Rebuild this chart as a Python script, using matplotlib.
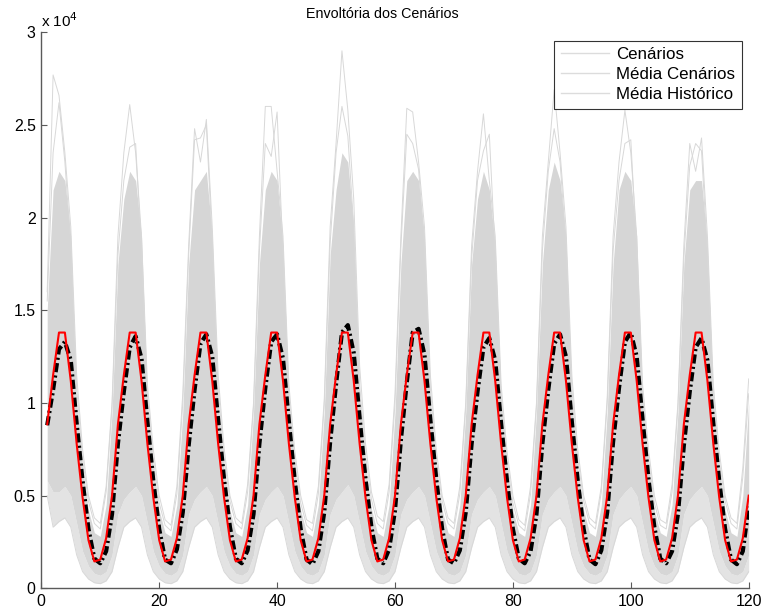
import numpy as np
import matplotlib
matplotlib.use("Agg")
import matplotlib.pyplot as plt
from matplotlib.lines import Line2D

plt.rcParams['font.family'] = ['Liberation Sans', 'DejaVu Sans']

meses = np.arange(1, 121)

# Média Histórico (red), 10 years x 12 months
media_historico = [
    8850, 11500, 13800, 13800, 11200, 7800, 4900, 2600, 1450, 1550, 2700, 5000,
    8850, 11500, 13800, 13800, 11200, 7800, 4900, 2600, 1450, 1550, 2700, 5000,
    8850, 11500, 13800, 13800, 11200, 7800, 4900, 2600, 1450, 1550, 2700, 5000,
    8850, 11500, 13800, 13800, 11200, 7800, 4900, 2600, 1450, 1550, 2700, 5000,
    8850, 11500, 13800, 13800, 11200, 7800, 4900, 2600, 1450, 1550, 2700, 5000,
    8850, 11500, 13800, 13800, 11200, 7800, 4900, 2600, 1450, 1550, 2700, 5000,
    8850, 11500, 13800, 13800, 11200, 7800, 4900, 2600, 1450, 1550, 2700, 5000,
    8850, 11500, 13800, 13800, 11200, 7800, 4900, 2600, 1450, 1550, 2700, 5000,
    8850, 11500, 13800, 13800, 11200, 7800, 4900, 2600, 1450, 1550, 2700, 5000,
    8850, 11500, 13800, 13800, 11200, 7800, 4900, 2600, 1450, 1550, 2700, 5000,
]

# Média Cenários (black dash-dot)
media_cenarios = [
    8800, 10700, 12900, 13300, 12300, 8900, 5800, 3200, 1600, 1350, 2000, 4000,
    7800, 10600, 13000, 13600, 12400, 9000, 5800, 3200, 1550, 1350, 2100, 4100,
    7700, 10700, 13200, 13700, 12500, 9100, 5900, 3300, 1600, 1350, 2050, 4000,
    7800, 10800, 13300, 13700, 12400, 9000, 5800, 3200, 1550, 1300, 2000, 4100,
    7900, 11000, 13800, 14200, 12700, 9200, 5900, 3300, 1600, 1350, 2100, 4200,
    8000, 11100, 13800, 14000, 12600, 9100, 5900, 3200, 1550, 1350, 2050, 4100,
    7800, 10600, 13000, 13500, 12300, 8900, 5800, 3200, 1600, 1350, 2000, 4000,
    7800, 10700, 13200, 13700, 12500, 9000, 5800, 3200, 1550, 1300, 2050, 4100,
    7900, 10800, 13300, 13800, 12500, 9100, 5900, 3300, 1600, 1350, 2000, 4000,
    7700, 10600, 13000, 13500, 12300, 8900, 5800, 3200, 1550, 1300, 2000, 4400,
]

# Cenários: highest scenario, second highest, dense core (upper / lower), lowest
cenarios_max = [
    16000, 27700, 26600, 23500, 19500, 11500, 7500, 5000, 3800, 3500, 5500, 10000,
    19000, 23500, 26100, 23500, 19000, 11000, 7500, 5000, 3700, 3400, 5500, 10500,
    18500, 24800, 23000, 25300, 19500, 11500, 7600, 5000, 3800, 3500, 5600, 10000,
    19000, 26000, 26000, 22500, 19000, 11000, 7400, 5000, 3700, 3500, 5500, 10200,
    19500, 24000, 29000, 25800, 21000, 12000, 7800, 5200, 3900, 3600, 5600, 10500,
    19000, 25900, 25700, 23000, 19500, 11500, 7500, 5000, 3800, 3500, 5500, 10000,
    18500, 22500, 25600, 22000, 19000, 11000, 7400, 5000, 3700, 3400, 5500, 10000,
    19000, 23000, 26900, 23500, 19500, 11500, 7500, 5000, 3800, 3500, 5500, 10300,
    19000, 23000, 25800, 23500, 19000, 11000, 7500, 5000, 3700, 3500, 5600, 10000,
    18500, 24000, 22500, 24300, 19000, 11000, 7400, 5000, 3800, 3500, 6500, 11300,
]
cenarios_seg = [
    15500, 23500, 26200, 23000, 18500, 10800, 7000, 4700, 3500, 3200, 5200, 9800,
    18000, 22000, 23800, 24000, 18200, 10500, 7000, 4600, 3400, 3100, 5100, 10000,
    18000, 24200, 24300, 25000, 18600, 10800, 7100, 4700, 3500, 3200, 5200, 9800,
    18200, 24000, 23300, 25700, 18000, 10500, 6900, 4600, 3400, 3100, 5100, 9900,
    18600, 23500, 26000, 24400, 19500, 11000, 7200, 4800, 3500, 3200, 5200, 10000,
    18400, 24500, 24000, 22600, 18500, 10800, 7000, 4700, 3500, 3200, 5100, 9800,
    17800, 22000, 23600, 24500, 18000, 10500, 6900, 4600, 3400, 3100, 5100, 9800,
    18200, 22500, 24800, 23000, 18600, 10800, 7000, 4700, 3500, 3200, 5200, 10000,
    18200, 22000, 24000, 24200, 18200, 10500, 7000, 4600, 3400, 3200, 5200, 9800,
    17800, 22800, 24000, 23600, 18000, 10500, 6900, 4700, 3500, 3200, 6000, 10500,
]
cenarios_sup = [
    15000, 21500, 22500, 22000, 19000, 10000, 6500, 4200, 3000, 2800, 4500, 9500,
    17500, 21000, 22500, 22000, 19000, 10000, 6500, 4200, 3000, 2800, 4500, 9500,
    17500, 21500, 22000, 22500, 19000, 10000, 6500, 4200, 3000, 2800, 4500, 9500,
    17500, 21500, 22500, 22000, 18500, 10000, 6500, 4200, 3000, 2800, 4500, 9500,
    18000, 21500, 23500, 23000, 19500, 10500, 6600, 4300, 3000, 2800, 4500, 9500,
    17500, 22000, 22500, 22000, 19000, 10000, 6500, 4200, 3000, 2800, 4500, 9500,
    17500, 21000, 22500, 21500, 18500, 10000, 6500, 4200, 3000, 2800, 4500, 9500,
    17500, 21500, 23000, 22000, 19000, 10000, 6500, 4200, 3000, 2800, 4500, 9500,
    17500, 21500, 22500, 22000, 19000, 10000, 6500, 4200, 3000, 2800, 4500, 9500,
    17500, 21500, 22000, 22000, 18500, 10000, 6500, 4200, 3000, 2800, 5000, 10000,
]
cenarios_inf = [
    5800, 5200, 5200, 5500, 5000, 3500, 2000, 1200, 800, 700, 900, 1800,
    4000, 4800, 5200, 5500, 5000, 3500, 2000, 1200, 800, 700, 900, 1800,
    4000, 4800, 5200, 5500, 5000, 3500, 2000, 1200, 800, 700, 900, 1800,
    4000, 4800, 5200, 5500, 5000, 3500, 2000, 1200, 800, 700, 900, 1800,
    4000, 4800, 5200, 5600, 5000, 3500, 2000, 1200, 800, 700, 900, 1800,
    4000, 4800, 5200, 5500, 5000, 3500, 2000, 1200, 800, 700, 900, 1800,
    4000, 4800, 5200, 5500, 5000, 3500, 2000, 1200, 800, 700, 900, 1800,
    4000, 4800, 5200, 5500, 5000, 3500, 2000, 1200, 800, 700, 900, 1800,
    4000, 4800, 5200, 5500, 5000, 3500, 2000, 1200, 800, 700, 900, 1800,
    4000, 4800, 5200, 5500, 5000, 3500, 2000, 1200, 800, 700, 900, 1800,
]
cenarios_min = [
    5000, 3300, 3600, 3800, 3300, 1800, 900, 500, 300, 250, 400, 900,
    2200, 3300, 3600, 3800, 3300, 1800, 900, 500, 300, 250, 400, 900,
    2200, 3300, 3600, 3800, 3300, 1800, 900, 500, 300, 250, 400, 900,
    2200, 3300, 3600, 3800, 3300, 1800, 900, 500, 300, 250, 400, 900,
    2200, 3300, 3600, 3800, 3300, 1800, 900, 500, 300, 250, 400, 900,
    2200, 3300, 3600, 3800, 3300, 1800, 900, 500, 300, 250, 400, 900,
    2200, 3300, 3600, 3800, 3300, 1800, 900, 500, 300, 250, 400, 900,
    2200, 3300, 3600, 3800, 3300, 1800, 900, 500, 300, 250, 400, 900,
    2200, 3300, 3600, 3800, 3300, 1800, 900, 500, 300, 250, 400, 900,
    2200, 3300, 3600, 3800, 3300, 1800, 900, 500, 300, 250, 400, 900,
]

titulo = "Envoltória dos Cenários"
legendas = ["Cenários", "Média Cenários", "Média Histórico"]
xticks = [0, 20, 40, 60, 80, 100, 120]
yticks = [0, 5000, 10000, 15000, 20000, 25000, 30000]
ytick_labels = ["0", "0.5", "1", "1.5", "2", "2.5", "3"]

W, H = 763, 614
fig = plt.figure(figsize=(W / 100, H / 100), dpi=100)
ax = fig.add_axes([41.3 / W, 1 - 588.3 / H, (748.7 - 41.3) / W, (588.3 - 32.3) / H])

gray_light = '#e3e3e3'
gray_dense = '#d6d6d6'
gray_line = '#d8d8d8'

ax.fill_between(meses, cenarios_min, cenarios_inf, color=gray_light, lw=0)
ax.fill_between(meses, cenarios_inf, cenarios_sup, color=gray_dense, lw=0)
for s in (cenarios_max, cenarios_seg, cenarios_min):
    ax.plot(meses, s, color=gray_line, lw=0.7)

ax.plot(meses, media_cenarios, color='black', lw=3, linestyle=(0, (2.2, 0.8, 0.5, 0.8)))
ax.plot(meses, media_historico, color='red', lw=1.5)

ax.set_xlim(0, 120)
ax.set_ylim(0, 30000)
ax.set_xticks(xticks)
ax.set_xticklabels([str(v) for v in xticks])
ax.set_yticks(yticks)
ax.set_yticklabels(ytick_labels)
for side in ('top', 'right'):
    ax.spines[side].set_visible(False)
for side in ('left', 'bottom'):
    ax.spines[side].set_color('#5a5a5a')
    ax.spines[side].set_linewidth(1.0)
ax.tick_params(direction='in', length=4, width=0.8, color='#5a5a5a', labelsize=11.4, pad=4)
ax.text(0.0, 1.005, r'x 10$^{4}$', transform=ax.transAxes, ha='left', va='bottom', fontsize=11)

fig.text(382 / W, 1 - 14 / H, titulo, ha='center', va='center', fontsize=10.25)

handles = [Line2D([0], [0], color='#dcdcdc', lw=1) for _ in legendas]
leg = ax.legend(handles, legendas, loc='upper right', bbox_to_anchor=(742 / W, 1 - 40.5 / H),
                bbox_transform=fig.transFigure, fontsize=12.2, frameon=True, fancybox=False,
                handlelength=2.85, handletextpad=0.4, borderpad=0.4, labelspacing=0.29,
                borderaxespad=0)
leg.get_frame().set_edgecolor('black')
leg.get_frame().set_linewidth(0.8)

fig.savefig('out.png', dpi=100)
